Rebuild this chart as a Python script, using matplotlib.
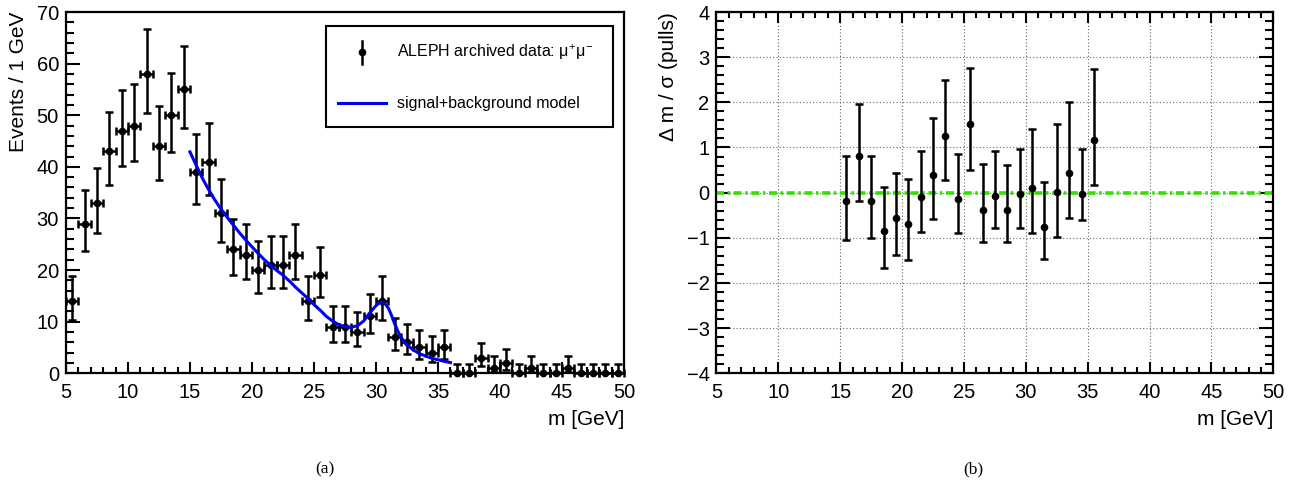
import matplotlib
matplotlib.use('Agg')
import matplotlib.pyplot as plt
from matplotlib.ticker import MultipleLocator
from matplotlib.patches import Rectangle

plt.rcParams['font.family'] = ['Liberation Sans', 'DejaVu Sans']
plt.rcParams['mathtext.fontset'] = 'custom'
plt.rcParams['mathtext.rm'] = 'Liberation Sans'
plt.rcParams['mathtext.it'] = 'Liberation Sans'

# mass spectrum, 1 GeV bins from 5 to 50
bin_centers = [5.5 + i for i in range(45)]
counts = [14, 29, 33, 43, 47, 48, 58, 44, 50, 55,
          39, 41, 31, 24, 23, 20, 21, 21, 23, 14,
          19, 9, 9, 8, 11, 14, 7, 6, 5, 4,
          5, 0, 0, 3, 1, 2, 0, 1, 0, 0,
          1, 0, 0, 0, 0]
# asymmetric (poisson) errors
err_lo = [3.70, 5.36, 5.73, 6.55, 6.84, 6.92, 7.60, 6.63, 7.06, 7.40,
          6.23, 6.39, 5.55, 4.88, 4.77, 4.44, 4.55, 4.55, 4.77, 3.70,
          4.32, 2.94, 2.94, 2.77, 3.26, 3.70, 2.58, 2.38, 2.16, 1.91,
          2.16, 0.0, 0.0, 1.63, 0.83, 1.29, 0.0, 0.83, 0.0, 0.0,
          0.83, 0.0, 0.0, 0.0, 0.0]
err_hi = [4.83, 6.44, 6.80, 7.62, 7.91, 7.99, 8.67, 7.70, 8.13, 8.47,
          7.31, 7.46, 6.62, 5.96, 5.86, 5.54, 5.65, 5.65, 5.86, 4.83,
          5.43, 4.11, 4.11, 3.95, 4.42, 4.83, 3.77, 3.58, 3.38, 3.16,
          3.38, 1.84, 1.84, 2.92, 2.30, 2.64, 1.84, 2.30, 1.84, 1.84,
          2.30, 1.84, 1.84, 1.84, 1.84]

# fitted signal+background model
model_x = [15.0, 15.5, 16.0, 16.5, 17.0, 17.5, 18.0, 18.5, 19.0, 19.5,
           20.0, 20.5, 21.0, 21.5, 22.0, 22.5, 23.0, 23.5, 24.0, 24.5,
           25.0, 25.5, 26.0, 26.5, 27.0, 27.5, 28.0, 28.5, 29.0, 29.5,
           30.0, 30.25, 30.5, 30.75, 31.0, 31.25, 31.5, 31.75, 32.0, 32.5,
           33.0, 33.5, 34.0, 34.5, 35.0, 35.5, 36.0]
model_y = [42.9, 40.3, 37.8, 35.6, 33.6, 31.8, 30.2, 28.7, 27.2, 25.8,
           24.5, 23.2, 22.0, 20.9, 19.9, 19.0, 17.9, 16.7, 15.6, 14.5,
           13.3, 12.2, 11.0, 10.1, 9.4, 9.0, 8.9, 9.2, 10.1, 11.7,
           13.1, 13.6, 13.7, 13.4, 12.6, 11.2, 9.6, 8.2, 7.0, 5.5,
           4.5, 3.8, 3.3, 2.9, 2.6, 2.3, 2.05]

# pulls in the fit range
pull_x = [15.5 + i for i in range(21)]
pull = [-0.18, 0.81, -0.18, -0.86, -0.57, -0.70, -0.09, 0.40, 1.26, -0.15,
        1.51, -0.375, -0.07, -0.38, -0.04, 0.10, -0.77, 0.02, 0.44, -0.04, 1.16]
pull_lo = [0.86, 0.99, 0.83, 0.82, 0.81, 0.79, 0.79, 0.99, 0.99, 0.75,
           1.00, 0.725, 0.72, 0.71, 0.75, 1.00, 0.69, 1.01, 1.01, 0.56, 0.99]
pull_hi = [0.99, 1.16, 0.99, 0.99, 1.00, 1.01, 1.01, 1.25, 1.24, 1.01,
           1.25, 1.00, 1.00, 0.99, 1.01, 1.32, 1.01, 1.51, 1.56, 1.00, 1.58]

data_label = r'ALEPH archived data: $\mu^{+}\mu^{-}$'
model_label = 'signal+background model'
blue = '#0000ee'


def style_axes(ax, all_sides):
    for sp in ax.spines.values():
        sp.set_linewidth(1.6)
    ax.tick_params(which='both', direction='in', top=all_sides, right=all_sides,
                   width=1.5, labelsize=14.5, pad=7)
    ax.tick_params(axis='y', which='major', length=10, pad=5)
    ax.tick_params(axis='y', which='minor', length=5.5)
    ax.tick_params(axis='x', which='major', length=8)
    ax.tick_params(axis='x', which='minor', length=4)


fig = plt.figure(figsize=(12.98, 4.84), dpi=100)

# (a) mass spectrum
ax1 = fig.add_axes([0.0508, 0.229, 0.430, 0.746])
eb = ax1.errorbar(bin_centers, counts, yerr=[err_lo, err_hi], xerr=0.5,
                  fmt='o', color='black', markersize=4.5, elinewidth=1.8,
                  capsize=3, capthick=1.8, zorder=3)
for art in eb.lines[0:1] + eb.lines[1] + eb.lines[2]:
    art.set_clip_on(False)
ax1.plot(model_x, model_y, color=blue, linewidth=2.2, zorder=4)
ax1.set_xlim(5, 50)
ax1.set_ylim(0, 70)
ax1.xaxis.set_major_locator(MultipleLocator(5))
ax1.xaxis.set_minor_locator(MultipleLocator(1))
ax1.yaxis.set_major_locator(MultipleLocator(10))
ax1.yaxis.set_minor_locator(MultipleLocator(2))
style_axes(ax1, False)
ax1.set_xlabel('m [GeV]', fontsize=15, loc='right', labelpad=6)
ax1.set_ylabel('Events / 1 GeV', fontsize=15, loc='top', labelpad=6)

# legend box drawn by hand, ROOT style
ax1.add_patch(Rectangle((0.466, 0.681), 0.514, 0.28, transform=ax1.transAxes,
                        facecolor='white', edgecolor='black', linewidth=1.5, zorder=5))
ax1.plot([0.530, 0.530], [0.857, 0.921], transform=ax1.transAxes, color='black',
         linewidth=1.8, zorder=6)
ax1.plot([0.530], [0.889], 'o', transform=ax1.transAxes, color='black',
         markersize=4.5, zorder=6)
ax1.plot([0.487, 0.573], [0.748, 0.748], transform=ax1.transAxes, color=blue,
         linewidth=2.2, zorder=6)
ax1.text(0.593, 0.889, data_label, transform=ax1.transAxes, fontsize=11.5,
         va='center', ha='left', zorder=7)
ax1.text(0.593, 0.748, model_label, transform=ax1.transAxes, fontsize=11.5,
         va='center', ha='left', zorder=7)

# (b) pulls
ax2 = fig.add_axes([0.552, 0.229, 0.429, 0.746])
ax2.grid(True, which='major', linestyle=(0, (1, 2)), color='#666666', linewidth=0.8)
ax2.axhline(0, color='#33e000', linewidth=2.6, linestyle=(0, (2.2, 1.0, 0.7, 1.0)),
            zorder=2)
ax2.errorbar(pull_x, pull, yerr=[pull_lo, pull_hi], fmt='o', color='black',
             markersize=4.5, elinewidth=1.8, capsize=3, capthick=1.8, zorder=3)
ax2.set_xlim(5, 50)
ax2.set_ylim(-4, 4)
ax2.xaxis.set_major_locator(MultipleLocator(5))
ax2.xaxis.set_minor_locator(MultipleLocator(1))
ax2.yaxis.set_major_locator(MultipleLocator(1))
ax2.yaxis.set_minor_locator(MultipleLocator(0.2))
style_axes(ax2, True)
ax2.set_axisbelow(True)
ax2.set_xlabel('m [GeV]', fontsize=15, loc='right', labelpad=6)
ax2.set_ylabel('Δ m / σ (pulls)', fontsize=15, loc='top', labelpad=6)

fig.text(0.25, 0.031, '(a)', fontsize=12.5, family='Liberation Serif',
         ha='center', va='center')
fig.text(0.75, 0.031, '(b)', fontsize=12.5, family='Liberation Serif',
         ha='center', va='center')

fig.savefig('out.png', dpi=100)
